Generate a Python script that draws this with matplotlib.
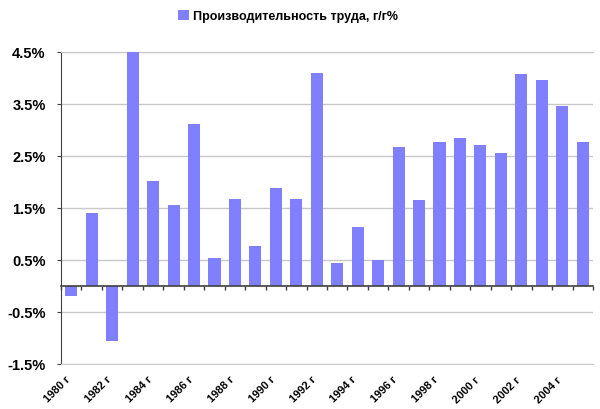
import numpy as np
import matplotlib
matplotlib.use("Agg")
import matplotlib.pyplot as plt
import matplotlib.transforms as mtransforms

# data
years = list(range(1980, 2006))
productivity = [-0.19, 1.40, -1.06, 4.49, 2.01, 1.55, 3.11, 0.53, 1.67, 0.76,
                1.88, 1.67, 4.09, 0.44, 1.13, 0.50, 2.67, 1.65, 2.76, 2.84,
                2.71, 2.55, 4.07, 3.96, 3.46, 2.76]
y_ticks = [-1.5, -0.5, 0.5, 1.5, 2.5, 3.5, 4.5]
series_name = "Производительность труда, г/г%"

plt.rcParams['font.family'] = ['Liberation Sans', 'DejaVu Sans']

fig = plt.figure(figsize=(6, 4.1), dpi=100)
ax = fig.add_axes([0.1017, 0.1098, 0.8866, 0.7617])

x = np.arange(len(years))
bars = ax.bar(x, productivity, width=0.59, color='#8080ff', zorder=3, label=series_name)

ax.set_xlim(-0.5, len(years) - 0.5)
ax.set_ylim(-1.5, 4.5)
ax.set_yticks(y_ticks)
ax.set_yticklabels([f"{v:.1f}%" for v in y_ticks], fontsize=10.5, fontweight='bold')
ax.yaxis.grid(True, color='#c8c8c8', linewidth=1.0, zorder=0)
ax.tick_params(axis='y', direction='out', length=3, color='#404040', pad=8)

# even years labelled under the plot
ax.set_xticks(x[::2])
ax.set_xticklabels([f"{y} г" for y in years[::2]], rotation=45, ha='right',
                   rotation_mode='anchor', fontsize=8, fontweight='bold')
ax.tick_params(axis='x', length=0, pad=7)
shift = mtransforms.ScaledTranslation(-6 / 100, 0, fig.dpi_scale_trans)
for lbl in ax.get_xticklabels():
    lbl.set_transform(lbl.get_transform() + shift)

ax.spines['right'].set_visible(False)
ax.spines['top'].set_color('#c8c8c8')
ax.spines['bottom'].set_color('#c8c8c8')
ax.spines['left'].set_color('#404040')

# zero line with category boundary ticks
zero = ax.secondary_xaxis(1.5 / 6.0)
zero.set_xticks(np.arange(-0.5, len(years), 1.0))
zero.set_xticklabels([])
zero.tick_params(direction='out', length=3, color='#404040', width=1)
zero.spines['bottom'].set_color('#404040')
zero.spines['bottom'].set_linewidth(1.2)
zero.set_zorder(4)

fig.legend(handles=[bars], loc='center left', bbox_to_anchor=(0.278, 0.958),
           frameon=False, handlelength=0.9, handleheight=0.9, handletextpad=0.3,
           prop={'size': 9, 'weight': 'bold'})

fig.savefig("out.png", dpi=100)
